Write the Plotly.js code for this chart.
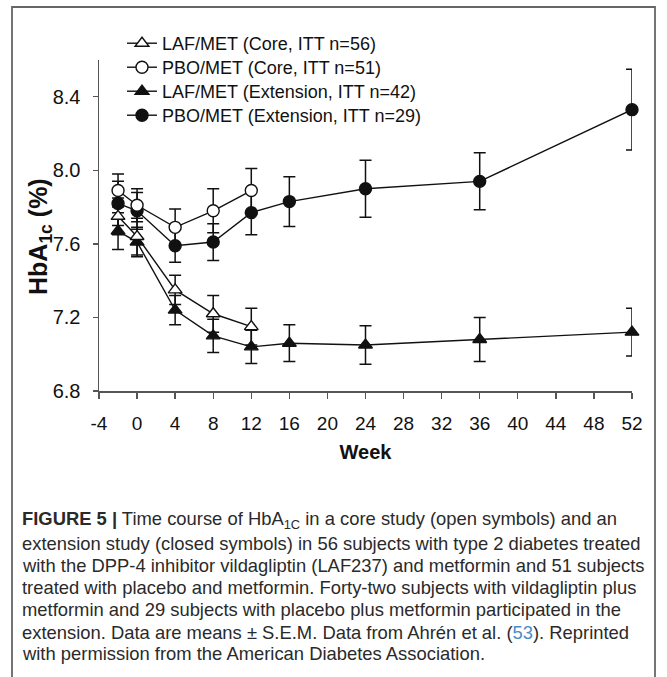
<!DOCTYPE html>
<html>
<head>
<meta charset="utf-8">
<script src="https://cdn.plot.ly/plotly-3.0.1.min.js"></script>
<style>
  html, body { margin: 0; padding: 0; background: #fff; }
  #chart { width: 667px; height: 677px; }
</style>
</head>
<body>
<div id="chart"></div>
<script>
// ---- Data ----
const weeksCore = [-2, 0, 4, 8, 12];
const weeksExt = [-2, 0, 4, 8, 12, 16, 24, 36, 52];

const lafCore = [7.75, 7.64, 7.35, 7.22, 7.15];
const lafCoreErr = [0.10, 0.10, 0.08, 0.10, 0.10];

const pboCore = [7.89, 7.81, 7.69, 7.78, 7.89];
const pboCoreErr = [0.09, 0.09, 0.10, 0.12, 0.12];

const lafExt = [7.67, 7.61, 7.24, 7.10, 7.04, 7.06, 7.05, 7.08, 7.12];
const lafExtErr = [0.10, 0.08, 0.08, 0.09, 0.09, 0.10, 0.105, 0.12, 0.13];

const pboExt = [7.82, 7.78, 7.59, 7.61, 7.77, 7.83, 7.90, 7.94, 8.33];
const pboExtErr = [0.12, 0.10, 0.09, 0.10, 0.12, 0.135, 0.155, 0.155, 0.22];

const seriesNames = [
  'LAF/MET (Core, ITT n=56)',
  'PBO/MET (Core, ITT n=51)',
  'LAF/MET (Extension, ITT n=42)',
  'PBO/MET (Extension, ITT n=29)'
];

const xTicks = [-4, 0, 4, 8, 12, 16, 20, 24, 28, 32, 36, 40, 44, 48, 52];
const yTicks = [6.8, 7.2, 7.6, 8.0, 8.4];

const captionLines = [
  '<b>FIGURE 5 |</b> Time course of HbA<sub>1C</sub> in a core study (open symbols) and an',
  'extension study (closed symbols) in 56 subjects with type 2 diabetes treated',
  'with the DPP-4 inhibitor vildagliptin (LAF237) and metformin and 51 subjects',
  'treated with placebo and metformin. Forty-two subjects with vildagliptin plus',
  'metformin and 29 subjects with placebo plus metformin participated in the',
  'extension. Data are means \u00B1 S.E.M. Data from Ahrén et al. (<span style="color:#4a8cc7">53</span>). Reprinted',
  'with permission from the American Diabetes Association.'
];

// ---- Styling ----
const FONT = 'Liberation Sans, Arial, Helvetica, sans-serif';
const INK = '#111';

// plot area in pixels
const L = 99, R = 35, T = 60, B = 286;
const W = 667, H = 677;
const pw = W - L - R, ph = H - T - B;
function px2paperX(px) { return (px - L) / pw; }
function px2paperY(py) { return (H - B - py) / ph; }

function errBar(arr) {
  return { type: 'data', array: arr, visible: true, color: INK, thickness: 1.5, width: 6 };
}

function trace(x, y, err, name, symbol, fill, legendId) {
  return {
    x: x, y: y, name: name, type: 'scatter', mode: 'lines+markers',
    line: { color: INK, width: 1.4 },
    marker: { symbol: symbol, size: 12, color: fill, line: { color: INK, width: 1.4 } },
    error_y: errBar(err),
    cliponaxis: false,
    legend: legendId
  };
}

const data = [
  trace(weeksExt, lafExt, lafExtErr, seriesNames[2], 'triangle-up', INK, 'legend3'),
  trace(weeksExt, pboExt, pboExtErr, seriesNames[3], 'circle', INK, 'legend4'),
  trace(weeksCore, lafCore, lafCoreErr, seriesNames[0], 'triangle-up', '#fff', 'legend'),
  trace(weeksCore, pboCore, pboCoreErr, seriesNames[1], 'circle', '#fff', 'legend2')
];

function legendAt(centerPy) {
  return {
    x: px2paperX(122), y: px2paperY(centerPy - 18), xanchor: 'left', yanchor: 'top',
    font: { family: FONT, size: 18, color: INK },
    bgcolor: 'rgba(0,0,0,0)', borderwidth: 0
  };
}

const captionY = [520, 543, 565, 587, 609, 632, 653];
const annotations = captionLines.map((t, i) => ({
  text: t, xref: 'paper', yref: 'paper',
  x: px2paperX(20), y: px2paperY(captionY[i]),
  xanchor: 'left', yanchor: 'middle', showarrow: false, align: 'left',
  font: { family: FONT, size: 18.4, color: '#2a2a2a' }
}));

// y-axis title placed as a rotated annotation to match the reference position
annotations.push({
  text: '<b>HbA<sub>1c</sub> (%)</b>', xref: 'paper', yref: 'paper',
  x: px2paperX(40), y: px2paperY(237), xanchor: 'center', yanchor: 'middle',
  textangle: -90, showarrow: false,
  font: { family: FONT, size: 25, color: INK }
});

const layout = {
  width: W, height: H,
  margin: { l: L, r: R, t: T, b: B, pad: 0 },
  paper_bgcolor: '#fff', plot_bgcolor: '#fff',
  font: { family: FONT, color: INK },
  showlegend: true,
  legend: legendAt(43),
  legend2: legendAt(67),
  legend3: legendAt(91),
  legend4: legendAt(115),
  xaxis: {
    range: [-4, 52], tickmode: 'array', tickvals: xTicks,
    ticktext: xTicks.map(String),
    showgrid: false, zeroline: false, showline: true,
    linecolor: '#555', linewidth: 1.5,
    ticks: 'outside', ticklen: 6, tickwidth: 1.3, tickcolor: '#555',
    ticklabelstandoff: 9,
    tickfont: { family: FONT, size: 19, color: INK },
    title: { text: '<b>Week</b>', standoff: 11, font: { family: FONT, size: 20, color: INK } },
    automargin: false, fixedrange: true
  },
  yaxis: {
    range: [6.8, 8.6], tickmode: 'array', tickvals: yTicks,
    ticktext: yTicks.map(v => v.toFixed(1)),
    showgrid: false, zeroline: false, showline: true,
    linecolor: '#555', linewidth: 1.5,
    ticks: 'outside', ticklen: 5, tickwidth: 1.3, tickcolor: '#555',
    ticklabelstandoff: 8,
    tickfont: { family: FONT, size: 20, color: INK },
    automargin: false, fixedrange: true
  },
  shapes: [{
    type: 'rect', xref: 'paper', yref: 'paper',
    x0: px2paperX(12), x1: px2paperX(655),
    y0: px2paperY(700), y1: px2paperY(7),
    line: { color: '#666', width: 1.8 }, fillcolor: 'rgba(0,0,0,0)', layer: 'below'
  }],
  annotations: annotations
};

Plotly.newPlot('chart', data, layout, { displayModeBar: false, staticPlot: true });
</script>
</body>
</html>
